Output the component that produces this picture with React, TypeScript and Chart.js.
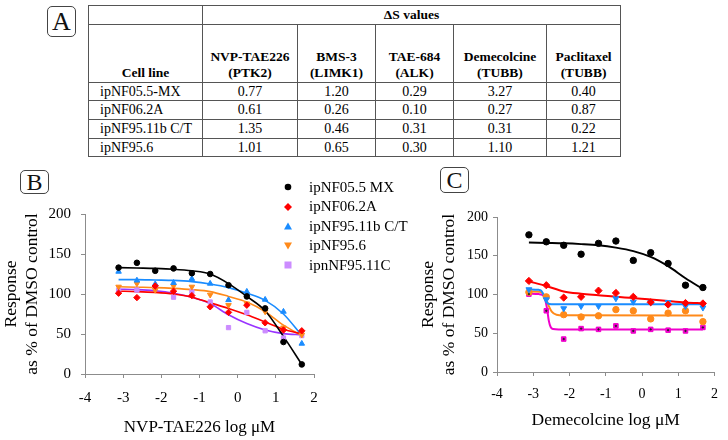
import React, { useEffect, useRef } from 'react';
import { Chart, registerables } from 'chart.js';

Chart.register(...registerables);

const FONT = "'Liberation Serif', 'Times New Roman', serif";

// ---------- Panel A table ----------
const DRUGS = ['NVP-TAE226', 'BMS-3', 'TAE-684', 'Demecolcine', 'Paclitaxel'];
const TARGETS = ['(PTK2)', '(LIMK1)', '(ALK)', '(TUBB)', '(TUBB)'];
const CELL_LINES = ['ipNF05.5-MX', 'ipNF06.2A', 'ipNF95.11b C/T', 'ipNF95.6'];
const DS_ROW1 = ['0.77', '1.20', '0.29', '3.27', '0.40'];
const DS_ROW2 = ['0.61', '0.26', '0.10', '0.27', '0.87'];
const DS_ROW3 = ['1.35', '0.46', '0.31', '0.31', '0.22'];
const DS_ROW4 = ['1.01', '0.65', '0.30', '1.10', '1.21'];
const DS_ROWS = [DS_ROW1, DS_ROW2, DS_ROW3, DS_ROW4];

// ---------- shared doses (log uM) ----------
const DOSE_LOG = [-3.12, -2.64, -2.16, -1.68, -1.2, -0.72, -0.24, 0.24, 0.72, 1.2, 1.68];

// ---------- Panel B : NVP-TAE226 ----------
const LEGEND_LABELS = ['ipNF05.5 MX', 'ipNF06.2A', 'ipNF95.11b C/T', 'ipNF95.6', 'ipnNF95.11C'];
const B_MX = [133, 139, 129, 132, 126, 125, 111, 97, 82, 40, 12];
const B_62A = [101, 95.5, 110, 103.5, 98, 84, 77, 86, 64, 55, 54];
const B_CT = [128, 117, 112.5, 114, 119, 113, 92.5, 103, 93, 78, 38];
const B_956 = [109, 113, 105, 110, 109, 99, 86, 88, 78, 58, 49];
const B_11C = [105, 105, 109, 96, 103, 90, 58, 77, 54, 45, 48];
// fitted curves, sampled at DOSE_LOG
const B_MX_FIT = [133, 132.5, 132, 131, 129, 125, 113, 97, 79, 47, 12];
const B_62A_FIT = [103.5, 103, 102, 100, 96, 89, 82, 74, 65, 56, 50];
const B_CT_FIT = [118, 118, 117.5, 117, 115.5, 112.5, 108, 101, 92, 75, 48];
const B_956_FIT = [109, 108.5, 108, 107, 105.5, 103, 97, 90, 78, 61, 48];
const B_11C_FIT = [106, 105.5, 104, 101, 96, 88, 74, 63, 55, 50.5, 49];

// ---------- Panel C : Demecolcine ----------
const C_MX = [177, 168, 163.5, 152, 166, 169, 144, 154, 140, 112, 109];
const C_62A = [117.5, 112, 96, 97, 105, 102, 97, 90, 87, 89, 88.5];
const C_CT = [106.5, 93.5, 82, 85, 85, 95, 90.5, 90, 90, 85, 83];
const C_956 = [103, 97, 74, 71, 72.5, 80.5, 79, 68.5, 76, 79, 65];
const C_11C = [100.5, 79, 42.5, 56, 55, 59.5, 53, 55, 54, 53, 57.5];
const C_MX_FIT = [167, 166.5, 166, 165, 163.5, 160.5, 156, 148.5, 136.5, 121, 107];
const C_62A_FIT = [117, 111, 104, 101, 99, 97, 95.5, 93.5, 91.5, 89.7, 88.5];
const C_CT_FIT_X = [-3.12, -2.85, -2.78, -2.72, -2.66, -2.6, -2.5, -2.16, 1.68];
const C_CT_FIT = [106.5, 106, 105, 100, 92, 88.5, 87.5, 87.5, 87.5];
const C_956_FIT_X = [-3.12, -2.85, -2.75, -2.67, -2.58, -2.49, -2.36, -2.16, 1.68];
const C_956_FIT = [104, 103.5, 102, 97, 86, 78, 74, 73.3, 73];
const C_11C_FIT_X = [-3.12, -2.85, -2.75, -2.68, -2.62, -2.57, -2.52, -2.45, -2.3, 1.68];
const C_11C_FIT = [101, 100.5, 99.5, 95, 82, 66, 58, 55.5, 55, 55];

const BLACK = '#000000';
const RED = '#ff0000';
const BLUE = '#1a8cff';
const ORANGE = '#ff8a1a';
const LAVENDER = '#cc8cff';
const VIOLET = '#9933ff';
const MAGENTA = '#f000cc';

const pts = (xs: number[], ys: number[]) => xs.map((x, i) => ({ x, y: ys[i] }));

function pointSet(xs: number[], ys: number[], color: string, style: string, radius: number, rotation = 0) {
  return {
    data: pts(xs, ys),
    showLine: false,
    pointStyle: style,
    pointRadius: radius,
    pointRotation: rotation,
    pointBackgroundColor: color,
    pointBorderColor: color,
    pointBorderWidth: 1,
    backgroundColor: color,
    borderColor: color,
  };
}

function lineSet(xs: number[], ys: number[], color: string, width: number) {
  return {
    data: pts(xs, ys),
    showLine: true,
    pointRadius: 0,
    borderColor: color,
    backgroundColor: color,
    borderWidth: width,
    cubicInterpolationMode: 'monotone',
    fill: false,
  };
}

interface AxisParams {
  xTitle: string;
  tickSize: number;
  titleSize: number;
  xTitleSize: number;
  xTickPad: number;
  yTickPad: number;
  xTitlePad: number;
  xHeight: number;
  yWidth: number;
}

function axes(p: AxisParams) {
  const gridCol = '#8c8c8c';
  return {
    x: {
      type: 'linear',
      min: -4,
      max: 2,
      ticks: { stepSize: 1, color: '#000', font: { family: FONT, size: p.tickSize }, padding: p.xTickPad },
      grid: { display: true, drawOnChartArea: false, drawTicks: true, tickLength: 4, color: gridCol },
      border: { display: true, color: gridCol, width: 1 },
      title: {
        display: true,
        text: p.xTitle,
        color: '#000',
        font: { family: FONT, size: p.xTitleSize },
        padding: { top: 0, bottom: p.xTitlePad },
      },
      afterFit: (s: any) => {
        s.height = p.xHeight;
      },
    },
    y: {
      type: 'linear',
      min: 0,
      max: 200,
      ticks: { stepSize: 50, color: '#000', font: { family: FONT, size: p.tickSize }, padding: p.yTickPad },
      grid: { display: true, drawOnChartArea: false, drawTicks: true, tickLength: 4, color: gridCol },
      border: { display: true, color: gridCol, width: 1 },
      title: {
        display: true,
        text: ['Response', 'as % of DMSO control'],
        color: '#000',
        font: { family: FONT, size: p.titleSize },
        padding: { top: 0.5, bottom: 0 },
      },
      afterFit: (s: any) => {
        s.width = p.yWidth;
      },
    },
  };
}

function ChartCanvas(props: { width: number; height: number; left: number; top: number; build: () => any }) {
  const ref = useRef<HTMLCanvasElement | null>(null);
  useEffect(() => {
    if (!ref.current) return;
    const chart = new Chart(ref.current, props.build());
    return () => chart.destroy();
  }, []);
  return (
    <canvas
      ref={ref}
      width={props.width}
      height={props.height}
      style={{ position: 'absolute', left: props.left, top: props.top, width: props.width, height: props.height }}
    />
  );
}

function buildB() {
  return {
    type: 'scatter',
    data: {
      datasets: [
        pointSet(DOSE_LOG, B_MX, BLACK, 'circle', 2.8),
        pointSet(DOSE_LOG, B_62A, RED, 'rectRot', 3.2),
        pointSet(DOSE_LOG, B_CT, BLUE, 'triangle', 3.2),
        pointSet(DOSE_LOG, B_956, ORANGE, 'triangle', 3.2, 180),
        pointSet(DOSE_LOG, B_11C, LAVENDER, 'rect', 3),
        lineSet(DOSE_LOG, B_MX_FIT, BLACK, 1.6),
        lineSet(DOSE_LOG, B_62A_FIT, RED, 1.6),
        lineSet(DOSE_LOG, B_CT_FIT, BLUE, 1.6),
        lineSet(DOSE_LOG, B_956_FIT, ORANGE, 1.6),
        lineSet(DOSE_LOG, B_11C_FIT, VIOLET, 1.6),
      ],
    },
    options: {
      responsive: false,
      animation: false,
      devicePixelRatio: 1,
      events: [],
      layout: { padding: { left: 0, right: 56, top: 54, bottom: 0 } },
      plugins: { legend: { display: false }, tooltip: { enabled: false } },
      scales: axes({
        xTitle: 'NVP-TAE226 log μM',
        tickSize: 15,
        titleSize: 17.5,
        xTitleSize: 17,
        xTickPad: 11,
        yTickPad: 10,
        xTitlePad: 2.5,
        xHeight: 66,
        yWidth: 85,
      }),
    },
  };
}

function buildC() {
  return {
    type: 'scatter',
    data: {
      datasets: [
        pointSet(DOSE_LOG, C_11C, '#222222', 'circle', 0.7),
        pointSet(DOSE_LOG, C_MX, BLACK, 'circle', 3.2),
        pointSet(DOSE_LOG, C_62A, RED, 'rectRot', 3.6),
        pointSet(DOSE_LOG, C_CT, BLUE, 'triangle', 3.4, 180),
        pointSet(DOSE_LOG, C_956, ORANGE, 'circle', 3.2),
        pointSet(DOSE_LOG, C_11C, MAGENTA, 'rect', 3.2),
        lineSet(DOSE_LOG, C_MX_FIT, BLACK, 2),
        lineSet(DOSE_LOG, C_62A_FIT, RED, 2),
        lineSet(C_CT_FIT_X, C_CT_FIT, BLUE, 2),
        lineSet(C_956_FIT_X, C_956_FIT, ORANGE, 2),
        lineSet(C_11C_FIT_X, C_11C_FIT, MAGENTA, 2),
      ],
    },
    options: {
      responsive: false,
      animation: false,
      devicePixelRatio: 1,
      events: [],
      layout: { padding: { left: 47, right: 9, top: 57, bottom: 0 } },
      plugins: { legend: { display: false }, tooltip: { enabled: false } },
      scales: axes({
        xTitle: 'Demecolcine log μM',
        tickSize: 14,
        titleSize: 17.5,
        xTitleSize: 17.5,
        xTickPad: 10,
        yTickPad: 5,
        xTitlePad: 9.5,
        xHeight: 68,
        yWidth: 80,
      }),
    },
  };
}

function Marker(props: { kind: string; color: string }) {
  const { kind, color } = props;
  let shape: any = null;
  if (kind === 'circle') shape = <circle cx={5} cy={5} r={3.3} fill={color} />;
  if (kind === 'diamond') shape = <polygon points="5,1 9,5 5,9 1,5" fill={color} />;
  if (kind === 'tri') shape = <polygon points="5,1.5 9,8.5 1,8.5" fill={color} />;
  if (kind === 'tridown') shape = <polygon points="1,1.5 9,1.5 5,8.5" fill={color} />;
  if (kind === 'square') shape = <rect x={1.5} y={1.5} width={7} height={7} fill={color} />;
  return (
    <svg width={10} height={10} style={{ display: 'block' }}>
      {shape}
    </svg>
  );
}

const LEGEND_MARKS = [
  { kind: 'circle', color: BLACK },
  { kind: 'diamond', color: RED },
  { kind: 'tri', color: BLUE },
  { kind: 'tridown', color: ORANGE },
  { kind: 'square', color: LAVENDER },
];

function PanelLabel(props: { text: string; left: number; top: number; w: number; h: number; size: number }) {
  return (
    <div
      style={{
        position: 'absolute',
        left: props.left,
        top: props.top,
        width: props.w,
        height: props.h,
        border: '1px solid #444',
        borderRadius: 5,
        boxSizing: 'border-box',
        fontFamily: FONT,
        fontSize: props.size,
        lineHeight: props.h - 2 + 'px',
        textAlign: 'center',
        color: '#111',
      }}
    >
      {props.text}
    </div>
  );
}

export default function App() {
  const colW = [114, 95, 78, 78, 93, 74];
  const bd = '1px solid #555';
  const cell: any = { border: bd, padding: 0, fontSize: 14, color: '#000', fontFamily: FONT, fontWeight: 'normal' };
  const head: any = {
    ...cell,
    textAlign: 'center',
    verticalAlign: 'bottom',
    fontWeight: 'bold',
    fontSize: 13.5,
    lineHeight: '16px',
    paddingBottom: 1,
  };
  return (
    <div
      style={{
        position: 'absolute',
        left: 0,
        top: 0,
        width: 728,
        height: 440,
        background: '#fff',
        overflow: 'hidden',
        fontFamily: FONT,
      }}
    >
      <PanelLabel text="A" left={47} top={6} w={29} h={31} size={26} />
      <PanelLabel text="B" left={20} top={170} w={29} h={24} size={24} />
      <PanelLabel text="C" left={440} top={167} w={29} h={26} size={24} />

      <table
        style={{
          position: 'absolute',
          left: 88,
          top: 5,
          width: 532,
          borderCollapse: 'collapse',
          tableLayout: 'fixed',
          fontFamily: FONT,
        }}
      >
        <colgroup>
          {colW.map((w, i) => (
            <col key={i} style={{ width: w }} />
          ))}
        </colgroup>
        <tbody>
          <tr style={{ height: 19 }}>
            <td style={cell}></td>
            <td colSpan={5} style={{ ...cell, textAlign: 'center', fontWeight: 'bold', fontSize: 13.5 }}>
              ΔS values
            </td>
          </tr>
          <tr style={{ height: 58 }}>
            <td style={head}>Cell line</td>
            {DRUGS.map((d, i) => (
              <td key={d} style={head}>
                {d}
                <br />
                {TARGETS[i]}
              </td>
            ))}
          </tr>
          {CELL_LINES.map((c, r) => (
            <tr key={c} style={{ height: r === 0 || r === 3 ? 18 : 19 }}>
              <td style={{ ...cell, textAlign: 'left', paddingLeft: 11, lineHeight: '16px' }}>{c}</td>
              {DS_ROWS[r].map((v, j) => (
                <td key={j} style={{ ...cell, textAlign: 'center', lineHeight: '16px' }}>
                  {v}
                </td>
              ))}
            </tr>
          ))}
        </tbody>
      </table>

      <ChartCanvas width={370} height={280} left={0} top={160} build={buildB} />
      <ChartCanvas width={358} height={280} left={370} top={160} build={buildC} />

      {LEGEND_LABELS.map((lab, i) => (
        <div
          key={lab}
          style={{
            position: 'absolute',
            left: 283,
            top: 177 + i * 19.5,
            height: 20,
            display: 'flex',
            alignItems: 'center',
            fontFamily: FONT,
            fontSize: 15,
            whiteSpace: 'nowrap',
            color: '#000',
          }}
        >
          <Marker kind={LEGEND_MARKS[i].kind} color={LEGEND_MARKS[i].color} />
          <span style={{ marginLeft: 16 }}>{lab}</span>
        </div>
      ))}
    </div>
  );
}
